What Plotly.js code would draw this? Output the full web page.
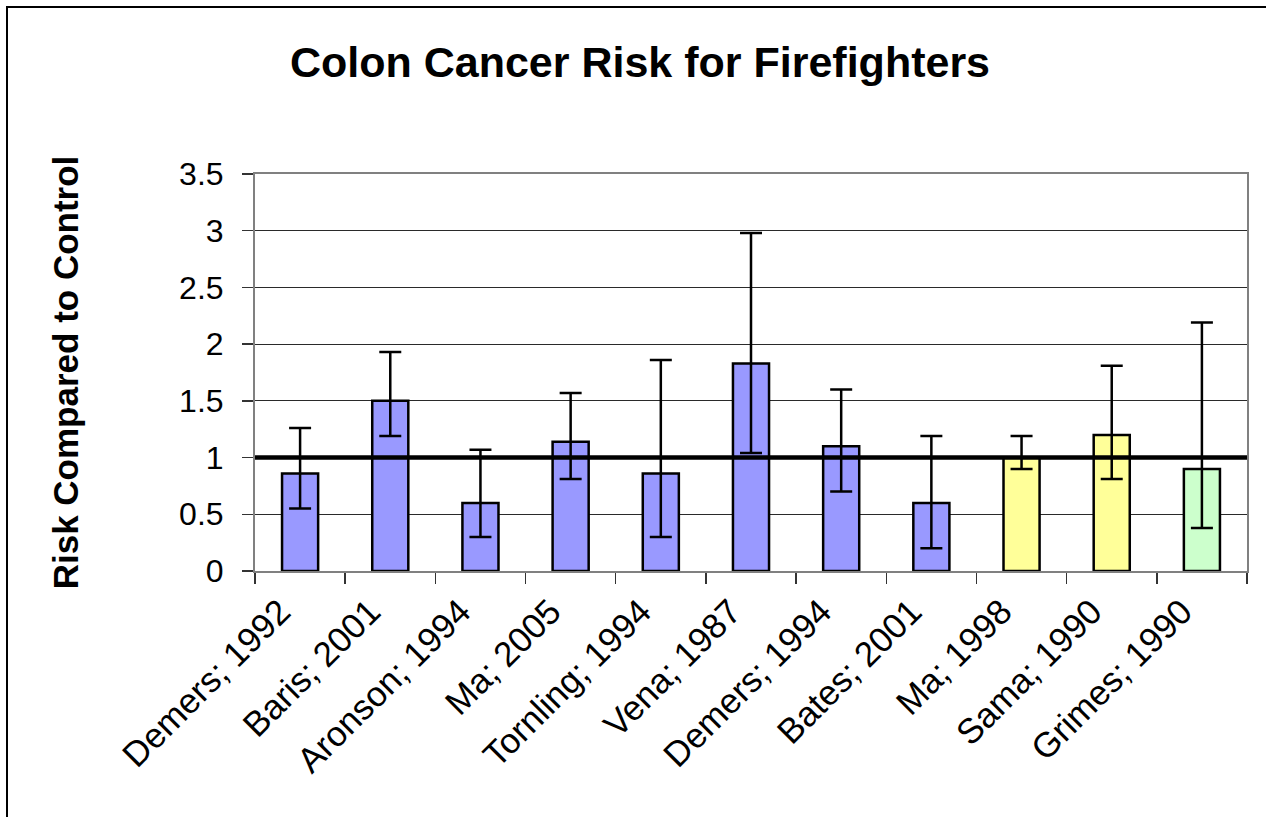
<!DOCTYPE html>
<html>
<head>
<meta charset="utf-8">
<script src="https://cdn.plot.ly/plotly-3.0.1.min.js"></script>
<style>
  html, body { margin: 0; padding: 0; background: #fff; }
  #wrap { position: relative; width: 1266px; height: 817px; overflow: hidden; }
  #chart { position: absolute; left: 0; top: 0; width: 1266px; height: 817px; }
  #frame { position: absolute; left: 6px; top: 6px; width: 1300px; height: 900px;
           border-left: 2px solid #000; border-top: 2px solid #000; pointer-events: none; }
</style>
</head>
<body>
<div id="wrap">
  <div id="chart"></div>
  <div id="frame"></div>
</div>
<script>
// Data
const studies = ["Demers; 1992", "Baris; 2001", "Aronson; 1994", "Ma; 2005", "Tornling; 1994",
                 "Vena; 1987", "Demers; 1994", "Bates; 2001", "Ma; 1998", "Sama; 1990", "Grimes; 1990"];
const risk     = [0.86, 1.50, 0.60, 1.14, 0.86, 1.83, 1.10, 0.60, 1.00, 1.20, 0.90];
const upperCI  = [1.26, 1.93, 1.07, 1.57, 1.86, 2.98, 1.60, 1.19, 1.19, 1.81, 2.19];
const lowerCI  = [0.55, 1.19, 0.30, 0.81, 0.30, 1.04, 0.70, 0.20, 0.90, 0.81, 0.38];
const studyGroup = [1, 1, 1, 1, 1, 1, 1, 1, 2, 2, 3];
const referenceRisk = 1;
const yTicks = [0, 0.5, 1, 1.5, 2, 2.5, 3, 3.5];

const groupColors = {1: "#9999FF", 2: "#FFFF99", 3: "#CCFFCC"};

const trace = {
  type: "bar",
  x: studies,
  y: risk,
  marker: {
    color: studyGroup.map(g => groupColors[g]),
    line: {color: "#000", width: 2.5}
  },
  error_y: {
    type: "data",
    symmetric: false,
    array: upperCI.map((u, i) => u - risk[i]),
    arrayminus: lowerCI.map((l, i) => risk[i] - l),
    color: "#000",
    thickness: 2.5,
    width: 11
  },
  hoverinfo: "x+y"
};

const font = "Liberation Sans, Arial, sans-serif";

const layout = {
  width: 1266,
  height: 817,
  paper_bgcolor: "rgba(0,0,0,0)",
  plot_bgcolor: "#fff",
  margin: {l: 255, r: 19, t: 174, b: 246},
  showlegend: false,
  bargap: 0.6,
  title: {
    text: "<b>Colon Cancer Risk for Firefighters</b>",
    font: {family: font, size: 43, color: "#000"},
    x: 640 / 1266, xref: "container", xanchor: "center",
    y: 1 - 62 / 817, yref: "container", yanchor: "middle"
  },
  xaxis: {
    type: "category",
    tickangle: -45,
    tickfont: {family: font, size: 35, color: "#000"},
    ticks: "outside",
    tickson: "boundaries",
    ticklen: 11,
    tickwidth: 1.5,
    tickcolor: "#333",
    ticklabelshift: -20,
    ticklabelstandoff: 4,
    showline: true,
    linecolor: "#808080",
    linewidth: 2,
    mirror: true,
    showgrid: false,
    automargin: false
  },
  yaxis: {
    range: [0, 3.5],
    tickvals: yTicks,
    ticktext: yTicks.map(v => String(v)),
    tickfont: {family: font, size: 32, color: "#000"},
    ticks: "outside",
    ticklen: 11,
    tickwidth: 1.5,
    tickcolor: "#333",
    ticklabelstandoff: 12,
    showline: true,
    linecolor: "#808080",
    linewidth: 2,
    mirror: true,
    showgrid: true,
    gridcolor: "#2a2a2a",
    gridwidth: 1,
    zeroline: false,
    automargin: false,
    title: {
      text: "<b>Risk Compared to Control</b>",
      font: {family: font, size: 35, color: "#000"},
      standoff: 90
    }
  },
  shapes: [{
    type: "line",
    xref: "paper", x0: 0, x1: 1,
    yref: "y", y0: referenceRisk, y1: referenceRisk,
    line: {color: "#000", width: 4.5},
    layer: "above"
  }]
};

Plotly.newPlot("chart", [trace], layout, {displayModeBar: false, staticPlot: true});
</script>
</body>
</html>
